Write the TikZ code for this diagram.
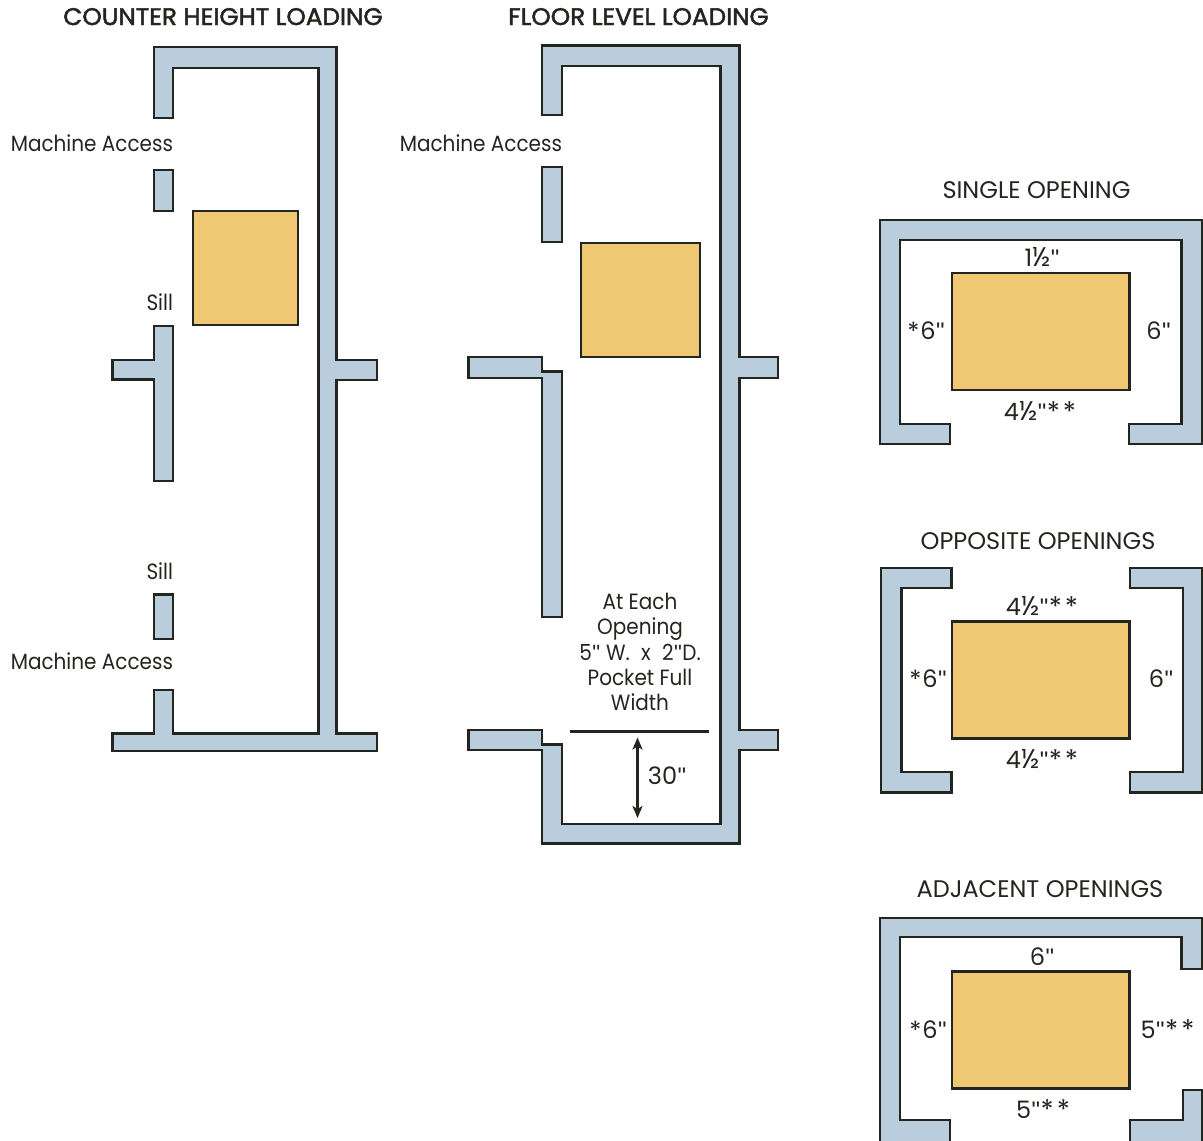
\documentclass[tikz,border=0pt]{standalone}
\usepackage{fontspec}
\setmainfont{Poppins}[FakeStretch=0.905]
\newfontfamily\titlefont{Poppins}[FakeStretch=1.03,FakeBold=2.0]
\newfontfamily\headfont{Poppins}[FakeStretch=1.0]
\newfontfamily\dimfont{Poppins}[FakeStretch=1.0]
\newfontfamily\quotefont{Liberation Sans}
\newcommand{\qm}{{\quotefont\hspace{0.5pt}"\hspace{0.5pt}}}
\newcommand{\hlf}{{\fontsize{27}{27}\selectfont ½}}
\newcommand{\strs}{\raisebox{-1pt}{\fontsize{27}{27}\selectfont *\hspace{3pt}*}}
\newcommand{\str}{\raisebox{-1pt}{\fontsize{25}{25}\selectfont *}\hspace{1pt}}
\usetikzlibrary{arrows.meta}
\definecolor{wallblue}{HTML}{BACDDD}
\definecolor{cabgold}{HTML}{F0C873}
\definecolor{inkdark}{HTML}{23261F}
\tikzset{
  wall/.style={draw=inkdark,fill=wallblue,line width=2.5pt,line join=miter},
  cab/.style={draw=inkdark,fill=cabgold,line width=2.5pt},
  lab/.style={inner sep=0pt,outer sep=0pt,text=inkdark,anchor=base,font=\fontsize{22.1}{25.4}\selectfont},
  labr/.style={lab,anchor=base east},
  dim/.style={inner sep=0pt,outer sep=0pt,text=inkdark,anchor=base,font=\dimfont\fontsize{24}{25.4}\selectfont},
  ttl/.style={inner sep=0pt,outer sep=0pt,text=inkdark,anchor=base,font=\titlefont\fontsize{24}{25}\selectfont},
  sub/.style={inner sep=0pt,outer sep=0pt,text=inkdark,anchor=base,font=\headfont\fontsize{24}{25}\selectfont},
  dimarrow/.style={draw=inkdark,line width=2.3pt,>={Stealth[length=12pt,width=10pt,inset=3pt]},<->}
}
\begin{document}
\begin{tikzpicture}[x=1pt,y=-1pt]
\useasboundingbox (0,0) rectangle (1203,1141);
\clip (0,0) rectangle (1203,1141);
% counter height
\draw[wall] (154,118)--(154,47)--(336.5,47)--(336.5,360)--(377,360)--(377,380)--(336.5,380)--(336.5,733.5)--(377,733.5)--(377,751)--(112.5,751)--(112.5,733.5)--(154,733.5)--(154,690)--(173.2,690)--(173.2,733.5)--(318.5,733.5)--(318.5,68)--(173.2,68)--(173.2,118)--cycle;
\draw[wall] (154,170) rectangle (173.2,211);
\draw[wall] (154,326)--(173.2,326)--(173.2,481)--(154,481)--(154,379.5)--(112.5,379.5)--(112.5,360)--(154,360)--cycle;
\draw[wall] (154,594.5) rectangle (173.2,639);
\draw[cab] (193,211) rectangle (298,325);
% floor level
\draw[wall] (542,115)--(542,45.5)--(739.5,45.5)--(739.5,357)--(778,357)--(778,378)--(739.5,378)--(739.5,730)--(778,730)--(778,750)--(739.5,750)--(739.5,843.5)--(542,843.5)--(542,750)--(468.5,750)--(468.5,730)--(542,730)--(542,744.5)--(562,744.5)--(562,824)--(720.5,824)--(720.5,66)--(562,66)--(562,115)--cycle;
\draw[wall] (542,167) rectangle (562,242);
\draw[wall] (468.5,357)--(542,357)--(542,371.5)--(562.2,371.5)--(562.2,617)--(542.2,617)--(542.2,378)--(468.5,378)--cycle;
\draw[cab] (581,243) rectangle (700,357);
\coordinate (pitL) at (570,731);
\coordinate (pitR) at (709,731);
\coordinate (arrTop) at (637.5,737.5);
\coordinate (arrBot) at (637.5,818);
\draw[inkdark,line width=3pt] (pitL)--(pitR);
\draw[dimarrow] (arrTop)--(arrBot);
% single
\draw[wall] (880,444)--(880,220)--(1201.8,220)--(1201.8,444)--(1129,444)--(1129,424)--(1181.7,424)--(1181.7,240)--(900,240)--(900,424)--(950,424)--(950,444)--cycle;
\draw[cab] (952,273) rectangle (1129.5,390);
% opposite
\draw[wall] (951.5,568)--(881.2,568)--(881.2,792.5)--(951.5,792.5)--(951.5,772)--(901.5,772)--(901.5,588)--(951.5,588)--cycle;
\draw[wall] (1130,568)--(1202,568)--(1202,792.5)--(1130,792.5)--(1130,772)--(1183,772)--(1183,588)--(1130,588)--cycle;
\draw[cab] (952,621.5) rectangle (1129.5,738.5);
% adjacent
\draw[wall] (950,1160)--(950,1120)--(900,1120)--(900,937)--(1181.7,937)--(1181.7,969)--(1201.8,969)--(1201.8,918)--(880,918)--(880,1160)--cycle;
\draw[wall] (1130,1160)--(1130,1120)--(1183,1120)--(1183,1090)--(1202,1090)--(1202,1160)--cycle;
\draw[cab] (952,971.5) rectangle (1129.5,1088.5);
% titles
\node[ttl] (t1) at (223,25) {COUNTER HEIGHT LOADING};
\node[ttl] (t2) at (638.5,25) {FLOOR LEVEL LOADING};
\node[sub] (t3) at (1036.5,198) {SINGLE OPENING};
\node[sub] (t4) at (1038,549) {OPPOSITE OPENINGS};
\node[sub] (t5) at (1040,897) {ADJACENT OPENINGS};
% labels
\node[labr] (ma1) at (173,151) {Machine Access};
\node[labr] (si1) at (173,310) {Sill};
\node[labr] (si2) at (173,579) {Sill};
\node[labr] (ma2) at (173,669) {Machine Access};
\node[labr] (ma3) at (562,151) {Machine Access};
\node[lab,align=center,anchor=center] (pocket) at (640,652) {At Each\\Opening\\5\qm\ W.\hspace{6pt} x\hspace{6pt} 2\qm D.\\Pocket Full\\Width};
\node[dim] (d30) at (667,784) {30\qm};
\node[dim] (a1) at (1042,266.5) {1\hlf\qm};
\node[dim] (a2) at (926,339) {\str 6\qm};
\node[dim] (a3) at (1158.5,339) {6\qm};
\node[dim] (a4) at (1040,420) {4\hlf\qm\strs};
\node[dim] (b1) at (1042,615) {4\hlf\qm\strs};
\node[dim] (b2) at (928,687) {\str 6\qm};
\node[dim] (b3) at (1161,687) {6\qm};
\node[dim] (b4) at (1042,768) {4\hlf\qm\strs};
\node[dim] (c1) at (1042,965) {6\qm};
\node[dim] (c2) at (928,1038) {\str 6\qm};
\node[dim] (c3) at (1167.5,1038) {5\qm\strs};
\node[dim] (c4) at (1043,1118) {5\qm\strs};
\end{tikzpicture}
\end{document}
